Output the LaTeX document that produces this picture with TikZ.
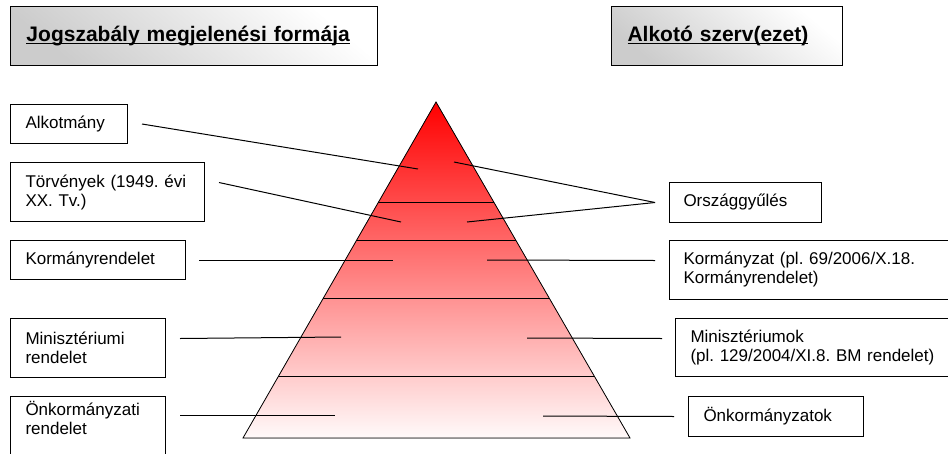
\documentclass[tikz,border=0pt]{standalone}
\usepackage{fontspec}
\setmainfont{Liberation Sans}
\usetikzlibrary{calc}
\frenchspacing
\newcommand{\hdul}[1]{\leavevmode\setbox0\hbox{#1}\rlap{\rule[-2.5pt]{\wd0}{1.4pt}}\box0}

\begin{document}
\begin{tikzpicture}[x=1pt,y=-1pt,
                    every node/.style={font=\fontsize{17}{19}\selectfont},
                    box/.style={draw,line width=1pt,anchor=north west,align=left,
                                inner xsep=15pt,inner ysep=0pt},
                    head/.style={draw,line width=1pt,anchor=north west,align=left,
                                 inner xsep=16pt,minimum height=59pt,
                                 top color=white,bottom color=black!20,shading angle=-40,
                                 font=\fontsize{21}{24}\selectfont\bfseries},
                    link/.style={line width=1pt}]
  \useasboundingbox (0,0) rectangle (948,453);

  % headings
  \node[head,text width=335pt] (hform) at (10,6)  {\hdul{Jogszabály megjelenési formája}};
  \node[head,text width=199pt] (hszerv) at (611,6) {\hdul{Alkotó szerv(ezet)}};

  % pyramid
  \coordinate (apex) at (436,102);
  \coordinate (bl) at (243,438);
  \coordinate (br) at (630,438);
  \fill[top color=red,bottom color=red!2] (apex) -- (br) -- (bl) -- cycle;
  \draw[line width=0.8pt] (apex) -- (br) -- (bl) -- cycle;
  \foreach \t in {0.702,0.589,0.414,0.182}
    \draw[link] ($(bl)!\t!(apex)$) -- ($(br)!\t!(apex)$);

  % left side
  \node[box,text width=87pt,minimum height=39pt]  (alk)  at (10,104) {Alkotmány};
  \node[box,text width=164pt,minimum height=59pt] (tv)   at (10,162) {Törvények (1949. évi\\XX. Tv.)};
  \node[box,text width=145pt,minimum height=39pt] (korm) at (10,240) {Kormányrendelet};
  \node[box,text width=125pt,minimum height=59pt] (min)  at (10,318) {Minisztériumi\\rendelet};
  \node[box,text width=125pt,inner ysep=5pt,text depth=45pt] (onk) at (10,396) {Önkormányzati\\rendelet};

  % right side
  \node[box,text width=124pt,inner xsep=14pt,minimum height=40pt] (og)   at (669,182) {Országgyűlés};
  \node[box,text width=262pt,inner xsep=14pt,minimum height=59pt] (kz)   at (669,240) {Kormányzat (pl. 69/2006/X.18.\\Kormányrendelet)};
  \node[box,text width=260pt,minimum height=58pt] (mk)   at (675,318) {Minisztériumok\\(pl. 129/2004/XI.8. BM rendelet)};
  \node[box,text width=145pt,minimum height=40pt] (onkk) at (688,396) {Önkormányzatok};

  % ends inside the pyramid
  \coordinate (alk-in)  at (418,169);
  \coordinate (tv-in)   at (401,222);
  \coordinate (korm-in) at (393,260);
  \coordinate (min-in)  at (341,337);
  \coordinate (onk-in)  at (335,415);
  \coordinate (onk-out) at ($(onk.north east |- onk-in)+(14,0)$);
  \coordinate (og-a)    at (454,162);
  \coordinate (og-b)    at (467,222);
  \coordinate (og-j)    at ([xshift=-14pt]og.west);
  \coordinate (kz-in)   at (487,260);
  \coordinate (mk-in)   at (527,338);
  \coordinate (onkk-in) at (543,416);

  \path[link] ([xshift=14pt]alk.east) edge (alk-in)
              ([xshift=14pt,yshift=9.5pt]tv.east) edge (tv-in)
              ([xshift=13pt]korm.east) edge (korm-in)
              ([xshift=14pt,yshift=9.5pt]min.east) edge (min-in)
              (onk-out) edge (onk-in)
              (og-j) edge (og-a)
              (og-j) edge (og-b)
              ([xshift=-14pt,yshift=9.5pt]kz.west) edge (kz-in)
              ([xshift=-13pt,yshift=9pt]mk.west) edge (mk-in)
              ([xshift=-14pt]onkk.west) edge (onkk-in);
\end{tikzpicture}
\end{document}
